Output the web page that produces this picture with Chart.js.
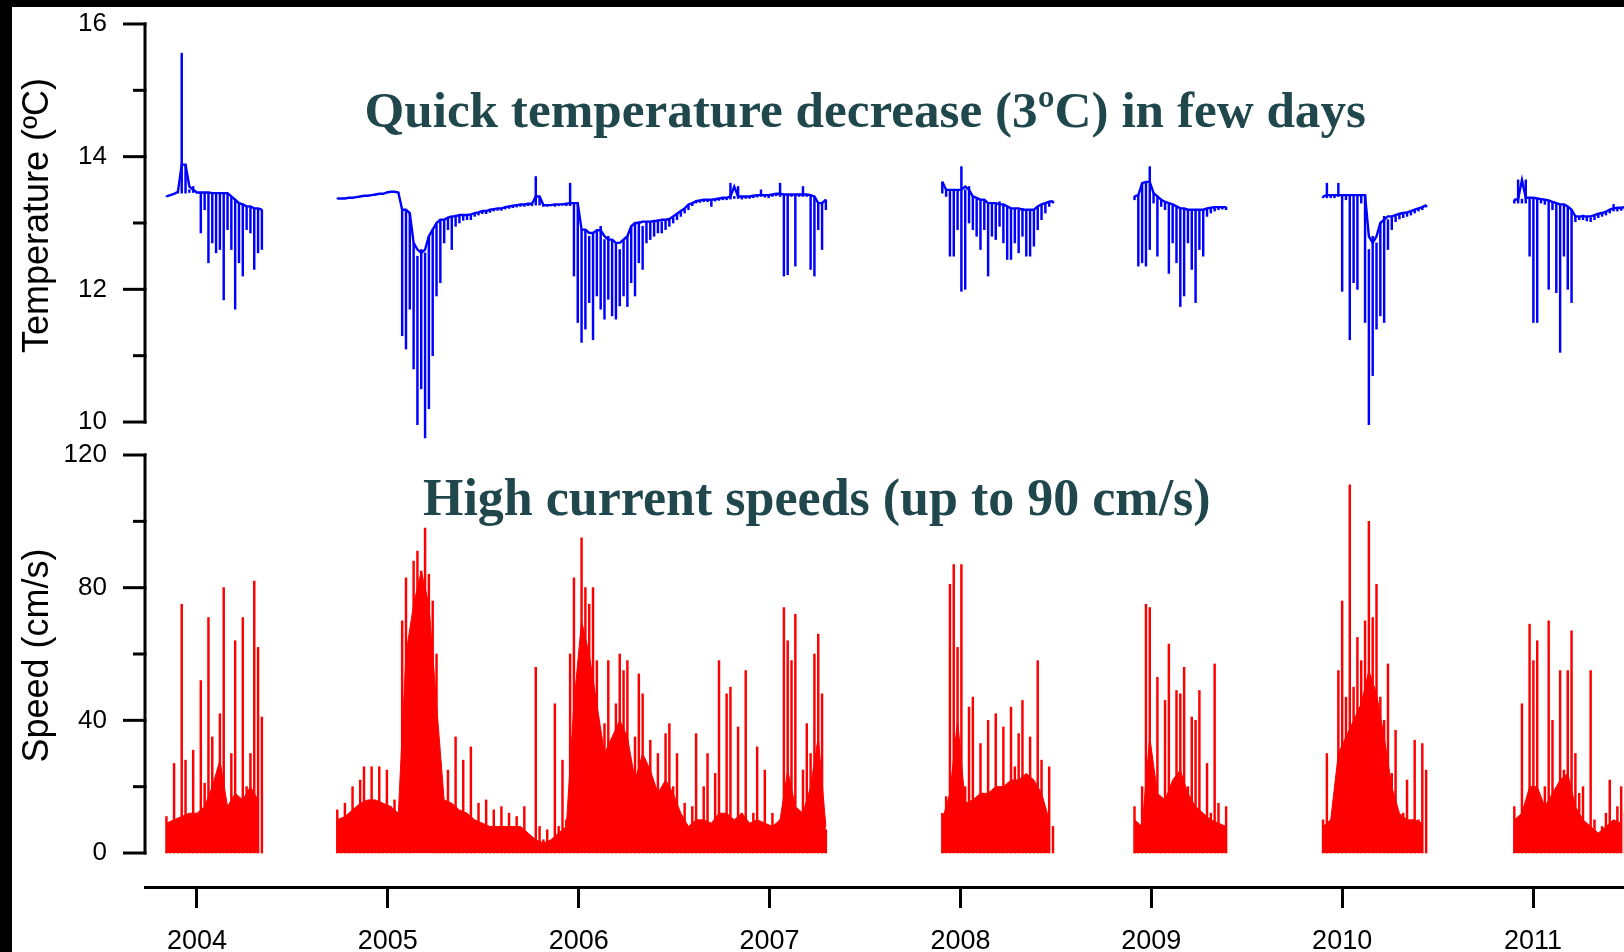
<!DOCTYPE html>
<html>
<head>
<meta charset="utf-8">
<script src="https://cdn.jsdelivr.net/npm/chart.js@4.4.1/dist/chart.umd.min.js"></script>
<style>
  html, body { margin: 0; padding: 0; background: #000; }
  #wrap { position: absolute; left: 12px; top: 7px; width: 1612px; height: 945px; background: #fff; }
  canvas { display: block; }
</style>
</head>
<body>
<div id="wrap"><canvas id="c" width="1612" height="945"></canvas></div>
<script>
// axis ticks
const yearTicks = [2004, 2005, 2006, 2007, 2008, 2009, 2010, 2011];
const tempTicks = [10, 11, 12, 13, 14, 15, 16];
const tempLabelTicks = [10, 12, 14, 16];
const speedTicks = [0, 20, 40, 60, 80, 100, 120];
const speedLabelTicks = [0, 40, 80, 120];

// start (decimal year) of each deployment
const segStart = [2003.84, 2004.735, 2007.905, 2008.912, 2009.900, 2010.902];
const sampleStep = 0.02;   // spikes / temperature samples
const bandStep = 0.04;     // speed background band samples

// temperature (ºC): upper trace and the lowest value reached in each sample
const temp2004 = [13.40, 13.42, 13.44, 13.47, 15.56, 13.88, 13.50, 13.55, 13.46, 13.46, 13.46, 13.46, 13.45,
  13.45, 13.45, 13.45, 13.45, 13.40, 13.35, 13.30, 13.28, 13.25, 13.25, 13.22, 13.22, 13.20];
const tempLow2004 = [13.40, 13.42, 13.44, 13.45, 13.45, 13.45, 13.46, 13.46, 13.45, 12.85, 13.20, 12.40, 12.70,
  12.55, 12.60, 11.84, 12.90, 12.60, 11.70, 12.40, 12.20, 12.90, 12.85, 12.30, 12.55, 12.60];

const temp2005 = [13.37, 13.37, 13.37, 13.38, 13.38, 13.39, 13.40, 13.41, 13.41, 13.43, 13.42, 13.44, 13.44,
  13.46, 13.47, 13.47, 13.46, 13.20, 13.20, 13.15, 12.70, 12.50, 12.60, 12.55, 12.80, 12.90, 13.00, 13.05, 13.05,
  13.08, 13.10, 13.12, 13.10, 13.12, 13.13, 13.12, 13.15, 13.16, 13.18, 13.18, 13.20, 13.21, 13.22, 13.22, 13.24,
  13.25, 13.26, 13.27, 13.28, 13.28, 13.29, 13.29, 13.70, 13.40, 13.27, 13.27, 13.28, 13.27, 13.28, 13.29, 13.28,
  13.60, 13.30, 13.30, 12.90, 12.90, 12.80, 12.85, 12.89, 12.95, 12.75, 12.80, 12.75, 12.70, 12.60, 12.75, 12.80,
  12.95, 13.00, 13.02, 12.95, 13.02, 13.02, 13.03, 13.05, 13.02, 13.05, 13.06, 13.10, 13.14, 13.18, 13.22, 13.28,
  13.30, 13.33, 13.34, 13.35, 13.35, 13.35, 13.36, 13.37, 13.38, 13.38, 13.60, 13.40, 13.55, 13.39, 13.40, 13.40,
  13.41, 13.42, 13.50, 13.42, 13.41, 13.43, 13.44, 13.60, 13.43, 13.43, 13.42, 13.43, 13.43, 13.55, 13.43, 13.42,
  13.40, 13.30, 13.30, 13.35];
const tempLow2005 = [13.37, 13.37, 13.37, 13.38, 13.38, 13.39, 13.40, 13.41, 13.41, 13.43, 13.42, 13.44, 13.44,
  13.46, 13.47, 13.47, 13.46, 11.30, 11.10, 11.70, 10.80, 9.96, 10.50, 9.76, 10.20, 11.00, 11.90, 12.10, 12.70,
  12.90, 12.60, 12.95, 13.00, 13.04, 13.05, 13.05, 13.10, 13.12, 13.14, 13.14, 13.16, 13.18, 13.19, 13.19, 13.21,
  13.22, 13.23, 13.24, 13.25, 13.25, 13.26, 13.26, 13.27, 13.27, 13.25, 13.25, 13.26, 13.25, 13.26, 13.27, 13.26,
  13.26, 12.20, 11.50, 11.20, 11.40, 11.80, 11.24, 11.90, 11.70, 11.55, 11.85, 11.60, 11.55, 11.75, 11.90, 11.74,
  12.10, 11.90, 12.40, 12.30, 12.70, 12.75, 12.80, 12.85, 12.85, 12.90, 12.95, 13.00, 13.05, 13.10, 13.15, 13.20,
  13.26, 13.30, 13.31, 13.32, 13.32, 13.25, 13.33, 13.34, 13.35, 13.35, 13.36, 13.37, 13.37, 13.36, 13.37, 13.37,
  13.38, 13.39, 13.40, 13.39, 13.38, 13.40, 13.41, 13.40, 12.20, 12.22, 13.40, 12.35, 13.40, 13.40, 13.40, 12.30,
  12.20, 12.90, 12.60, 13.20];

const temp2008 = [13.62, 13.50, 13.50, 13.50, 13.48, 13.85, 13.50, 13.55, 13.40, 13.38, 13.35, 13.35, 13.30,
  13.30, 13.28, 13.32, 13.28, 13.25, 13.22, 13.22, 13.20, 13.22, 13.20, 13.18, 13.20, 13.25, 13.28, 13.30, 13.32, 13.33];
const tempLow2008 = [13.45, 13.40, 12.50, 12.50, 12.90, 11.97, 12.00, 13.00, 12.90, 12.80, 12.60, 12.90, 12.20,
  12.80, 12.75, 12.95, 12.70, 12.45, 12.45, 12.70, 12.55, 12.80, 12.50, 12.50, 12.65, 12.90, 13.05, 13.15, 13.25, 13.30];

const temp2009 = [13.40, 13.42, 13.60, 13.62, 13.85, 13.45, 13.40, 13.35, 13.32, 13.30, 13.28, 13.25, 13.22,
  13.22, 13.20, 13.20, 13.20, 13.20, 13.20, 13.22, 13.23, 13.24, 13.24, 13.25, 13.24];
const tempLow2009 = [13.35, 12.35, 12.40, 12.35, 12.60, 13.30, 12.50, 13.25, 13.20, 12.24, 12.70, 12.40, 11.74,
  11.90, 12.70, 12.30, 11.80, 12.60, 12.50, 13.10, 13.15, 13.18, 13.20, 13.21, 13.20];

const temp2010 = [13.40, 13.60, 13.42, 13.42, 13.60, 13.42, 13.42, 13.42, 13.42, 13.42, 13.42, 13.42, 12.60,
  12.80, 12.70, 13.00, 13.10, 13.05, 13.10, 13.12, 13.14, 13.15, 13.16, 13.18, 13.20, 13.22, 13.24, 13.27];
const tempLow2010 = [13.38, 13.38, 13.38, 13.38, 13.40, 11.97, 13.35, 11.24, 12.10, 12.00, 13.30, 11.50, 9.96,
  10.70, 11.40, 11.60, 11.50, 12.60, 12.90, 13.02, 13.06, 13.08, 13.10, 13.12, 13.15, 13.18, 13.20, 13.24];

const temp2011 = [13.35, 13.65, 13.36, 13.65, 13.38, 13.38, 13.37, 13.36, 13.35, 13.34, 13.32, 13.30, 13.28,
  13.28, 13.25, 13.20, 13.10, 13.10, 13.12, 13.10, 13.08, 13.12, 13.14, 13.15, 13.17, 13.20, 13.28, 13.22, 13.23, 13.24];
const tempLow2011 = [13.30, 13.30, 13.30, 13.30, 12.50, 11.50, 11.50, 13.30, 13.28, 12.00, 13.20, 11.95, 11.05,
  12.50, 12.00, 11.80, 13.02, 13.05, 13.05, 13.03, 13.02, 13.05, 13.08, 13.10, 13.12, 13.15, 13.18, 13.18, 13.19, 13.20];

// current speed (cm/s): spike heights
const speed2004 = [11, 4, 27, 5, 75, 28, 8, 31, 10, 52, 21, 71, 35, 6, 42, 80, 12, 30, 64, 14, 71, 20, 30, 82, 62, 41];
const speed2005 = [13, 8, 15, 6, 20, 9, 22, 26, 10, 26, 12, 26, 8, 25, 14, 16, 5, 70, 83, 20, 88, 91, 85, 98, 84,
  76, 60, 27, 10, 25, 8, 35, 12, 28, 6, 32, 8, 15, 5, 16, 6, 13, 4, 14, 6, 12, 4, 11, 5, 14, 3, 1, 56, 8, 4, 7, 3,
  45, 8, 28, 10, 60, 83, 45, 95, 80, 75, 80, 58, 35, 39, 58, 20, 45, 60, 55, 58, 20, 35, 54, 48, 25, 34, 15, 30,
  10, 36, 39, 20, 30, 8, 15, 5, 14, 36, 8, 20, 30, 6, 24, 58, 10, 48, 50, 6, 38, 12, 55, 8, 12, 32, 6, 25, 5, 12,
  4, 10, 74, 64, 58, 72, 6, 25, 39, 30, 60, 66, 48, 7];
const speed2008 = [12, 17, 81, 87, 62, 87, 20, 44, 47, 12, 33, 15, 40, 14, 42, 10, 38, 18, 44, 26, 36, 46, 14,
  35, 20, 58, 28, 10, 26, 8];
const speed2009 = [14, 8, 20, 75, 74, 20, 53, 12, 46, 63, 15, 49, 48, 56, 20, 41, 40, 49, 10, 27, 12, 57, 15, 8, 14];
const speed2010 = [10, 30, 8, 15, 55, 76, 47, 111, 50, 65, 58, 70, 100, 71, 81, 47, 40, 57, 24, 37, 8, 12, 22,
  6, 34, 10, 33, 25];
const speed2011 = [14, 8, 45, 15, 69, 58, 64, 12, 20, 70, 40, 14, 55, 25, 55, 67, 30, 18, 20, 8, 55, 10, 6, 8,
  12, 22, 7, 14, 20, 12];

// current speed (cm/s): height of the dense red background band
const band2004 = [9, 10, 11, 12, 12, 14, 20, 28, 14, 18, 16, 20, 16];
const band2005 = [10, 11, 13, 15, 16, 16, 15, 14, 12, 60, 75, 85, 75, 45, 16, 15, 13, 12, 10, 9, 8, 8, 8, 8, 8,
  6, 4, 3, 4, 6, 8, 45, 70, 60, 45, 30, 35, 40, 35, 22, 30, 25, 18, 22, 18, 12, 8, 10, 10, 9, 12, 12, 10, 12, 9,
  10, 9, 8, 10, 25, 14, 12, 20, 35, 8];
const band2008 = [10, 18, 40, 15, 16, 18, 18, 20, 20, 22, 22, 24, 22, 18, 10];
const band2009 = [10, 8, 35, 18, 16, 22, 25, 18, 14, 12, 10, 9, 8];
const band2010 = [8, 10, 30, 35, 40, 45, 55, 48, 35, 20, 12, 10, 10, 9];
const band2011 = [10, 12, 20, 20, 14, 18, 22, 24, 14, 10, 8, 6, 8, 10, 9];

const tempSegments = [temp2004, temp2005, temp2008, temp2009, temp2010, temp2011];
const tempLowSegments = [tempLow2004, tempLow2005, tempLow2008, tempLow2009, tempLow2010, tempLow2011];
const speedSegments = [speed2004, speed2005, speed2008, speed2009, speed2010, speed2011];
const bandSegments = [band2004, band2005, band2008, band2009, band2010, band2011];

// text written on the plot
const notes = [
  { text: 'Quick temperature decrease (3ºC) in few days', x: 2004.877, y: 14.447, axis: 'yT', width: 1002 },
  { text: 'High current speeds (up to 90 cm/s)', x: 2005.184, y: 101.9, axis: 'yS', width: 788 }
];

// line points, with a null between deployments so the trace breaks;
// smooth=true drops one-sample spikes from the trace (the bars show them)
function buildLine(segments, step, smooth) {
  const pts = [];
  segments.forEach((vals, s) => {
    if (s > 0) pts.push({ x: segStart[s] - step, y: null });
    vals.forEach((v, i) => {
      let y = v;
      if (smooth && i > 0 && i < vals.length - 1) {
        y = [vals[i - 1], v, vals[i + 1]].sort((a, b) => a - b)[1];
      }
      pts.push({ x: segStart[s] + i * step, y: y });
    });
  });
  return pts;
}

// bar points; optional second list gives the bar bottom
function buildBars(segments, lowSegments) {
  const pts = [];
  segments.forEach((vals, s) => {
    vals.forEach((v, i) => {
      const x = segStart[s] + i * sampleStep;
      pts.push({ x: x, y: lowSegments ? [lowSegments[s][i], v] : v });
    });
  });
  return pts;
}

const sans = "'Liberation Sans', Arial, sans-serif";

function noPadding(s) {
  s.paddingTop = 0;
  s.paddingBottom = 0;
  s.paddingLeft = 0;
  s.paddingRight = 0;
}

// R style axes: line only between first and last tick, short minor ticks
const axesPlugin = {
  id: 'rAxes',
  afterDraw(chart) {
    const ctx = chart.ctx;
    const left = chart.chartArea.left;
    ctx.save();
    ctx.strokeStyle = '#000';
    ctx.lineWidth = 3;
    [[chart.scales.yT, tempTicks, tempLabelTicks], [chart.scales.yS, speedTicks, speedLabelTicks]].forEach(([sc, ticks, major]) => {
      const top = sc.getPixelForValue(ticks[ticks.length - 1]);
      const bot = sc.getPixelForValue(ticks[0]);
      ctx.beginPath();
      ctx.moveTo(left, top - 1.5);
      ctx.lineTo(left, bot + 1.5);
      ctx.stroke();
      ticks.forEach(v => {
        const y = sc.getPixelForValue(v);
        const len = major.includes(v) ? 22 : 12;
        ctx.beginPath();
        ctx.moveTo(left + 1.5, y);
        ctx.lineTo(left - len, y);
        ctx.stroke();
      });
    });

    ctx.fillStyle = '#1f474c';
    ctx.textBaseline = 'alphabetic';
    ctx.textAlign = 'left';
    notes.forEach(n => {
      ctx.font = "bold 48px 'Liberation Serif', serif";
      const size = 48 * n.width / ctx.measureText(n.text).width;
      ctx.font = "bold " + size.toFixed(1) + "px 'Liberation Serif', serif";
      ctx.fillText(n.text, chart.scales.x.getPixelForValue(n.x), chart.scales[n.axis].getPixelForValue(n.y));
    });
    ctx.restore();
  }
};

const tempClip = { left: 0, top: 0, right: 0, bottom: 30 };

new Chart(document.getElementById('c'), {
  type: 'line',
  data: {
    datasets: [
      {
        type: 'line',
        label: 'Speed band',
        data: buildLine(bandSegments, bandStep, false),
        yAxisID: 'yS',
        borderColor: '#ff0000',
        backgroundColor: '#ff0000',
        borderWidth: 1,
        pointRadius: 0,
        fill: 'origin',
        spanGaps: false
      },
      {
        type: 'bar',
        label: 'Speed',
        data: buildBars(speedSegments),
        yAxisID: 'yS',
        backgroundColor: '#ff0000',
        barThickness: 1.8,
        grouped: false
      },
      {
        type: 'bar',
        label: 'Temperature dips',
        data: buildBars(tempSegments, tempLowSegments),
        yAxisID: 'yT',
        backgroundColor: '#0000ff',
        barThickness: 1.8,
        grouped: false,
        clip: tempClip
      },
      {
        type: 'line',
        label: 'Temperature',
        data: buildLine(tempSegments, sampleStep, true),
        yAxisID: 'yT',
        borderColor: '#0000ff',
        borderWidth: 2.4,
        pointRadius: 0,
        fill: false,
        spanGaps: false,
        clip: tempClip
      }
    ]
  },
  options: {
    responsive: false,
    animation: false,
    layout: { padding: 0, autoPadding: false },
    plugins: { legend: { display: false }, tooltip: { enabled: false } },
    scales: {
      x: {
        type: 'linear',
        offset: false,
        min: 2003.7276,
        max: 2011.4767,
        afterBuildTicks: s => { s.ticks = yearTicks.map(v => ({ value: v })); },
        afterFit: s => { s.height = 65; noPadding(s); },
        ticks: {
          callback: v => String(v),
          font: { family: sans, size: 27 },
          color: '#000',
          padding: 17,
          maxRotation: 0,
          autoSkip: false
        },
        grid: { drawOnChartArea: false, drawTicks: true, tickLength: 21, tickWidth: 3, color: '#000', offset: false },
        border: { display: true, color: '#000', width: 3 }
      },
      yS: {
        type: 'linear',
        position: 'left',
        stack: 'v',
        stackWeight: 463,
        min: -10.25,
        max: 129.35,
        afterBuildTicks: s => { s.ticks = speedTicks.map(v => ({ value: v })); },
        afterFit: s => { s.width = 133; noPadding(s); },
        ticks: {
          callback: v => speedLabelTicks.includes(v) ? String(v) : '',
          font: { family: sans, size: 26 },
          color: '#000',
          padding: 38,
          autoSkip: false
        },
        grid: { display: false, drawTicks: false },
        border: { display: false },
        title: {
          display: true,
          text: 'Speed (cm/s)',
          font: { family: sans, size: 36 },
          color: '#000',
          padding: { top: 4, bottom: 0 }
        }
      },
      yT: {
        type: 'linear',
        position: 'left',
        stack: 'v',
        stackWeight: 417,
        min: 9.97,
        max: 16.256,
        afterBuildTicks: s => { s.ticks = tempTicks.map(v => ({ value: v })); },
        afterFit: s => { s.width = 133; noPadding(s); },
        ticks: {
          callback: v => tempLabelTicks.includes(v) ? String(v) : '',
          font: { family: sans, size: 26 },
          color: '#000',
          padding: 38,
          autoSkip: false
        },
        grid: { display: false, drawTicks: false },
        border: { display: false },
        title: {
          display: true,
          text: 'Temperature (ºC)',
          font: { family: sans, size: 36 },
          color: '#000',
          padding: { top: 4, bottom: 0 }
        }
      }
    }
  },
  plugins: [axesPlugin]
});
</script>
</body>
</html>
